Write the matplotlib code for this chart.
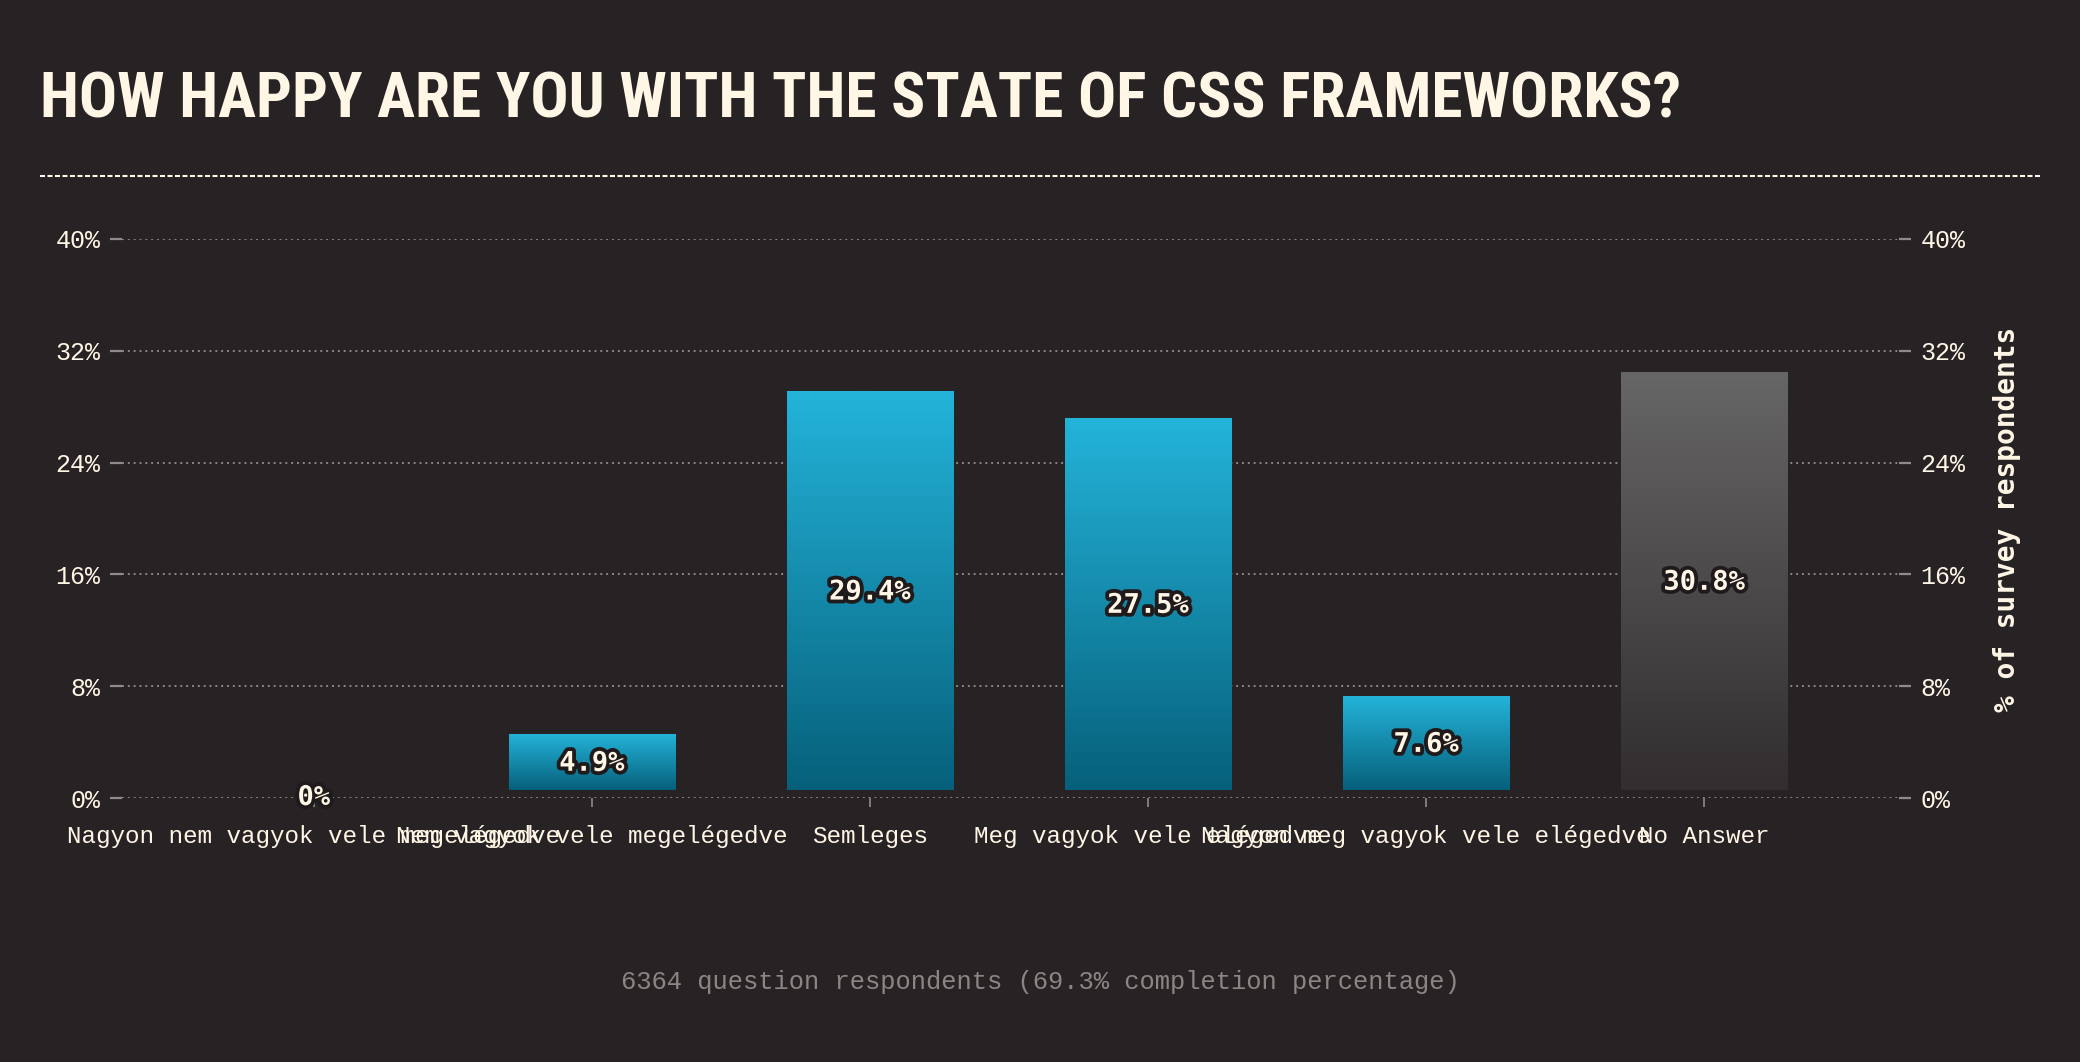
import matplotlib
matplotlib.use("Agg")
import matplotlib.pyplot as plt
import numpy as np
from matplotlib.colors import LinearSegmentedColormap
from matplotlib.lines import Line2D
import matplotlib.patheffects as pe

# ---- data ----
categories = [
    "Nagyon nem vagyok vele megelégedve",
    "Nem vagyok vele megelégedve",
    "Semleges",
    "Meg vagyok vele elégedve",
    "Nagyon meg vagyok vele elégedve",
    "No Answer",
]
values = [0.0, 4.9, 29.4, 27.5, 7.6, 30.8]
y_ticks = [0, 8, 16, 24, 32, 40]
title = "HOW HAPPY ARE YOU WITH THE STATE OF CSS FRAMEWORKS?"
y_label = "% of survey respondents"
footer = "6364 question respondents (69.3% completion percentage)"

# ---- style ----
BG = "#272325"
CREAM = "#fff6e6"
GRID = "#8a8684"
TICK = "#8f8b89"
FOOT = "#8c8682"
TEAL_TOP, TEAL_BOT = "#24b4da", "#06607b"
GRAY_TOP, GRAY_BOT = "#676666", "#322e30"
MONO = ["Liberation Mono", "DejaVu Sans Mono"]
MONO_B = ["DejaVu Sans Mono"]
TITLE_FONT = ["Roboto Condensed", "Open Sans Condensed", "DejaVu Sans"]

W, H = 2080, 1062
fig = plt.figure(figsize=(W / 100, H / 100), dpi=100, facecolor=BG)
ax = fig.add_axes([122 / W, 1 - 798 / H, (1899 - 122) / W, (798 - 239) / H])
ax.set_facecolor(BG)
for s in ax.spines.values():
    s.set_visible(False)

x = np.arange(len(categories))
bar_w = 0.6
inset_bottom, inset_top = 0.55, 0.3
heights = [max(v - inset_bottom - inset_top, 0) for v in values]
bars = ax.bar(x, heights, width=bar_w, bottom=inset_bottom, color="none",
              edgecolor="none", zorder=2)

teal = LinearSegmentedColormap.from_list("teal", [TEAL_BOT, TEAL_TOP])
gray = LinearSegmentedColormap.from_list("gray", [GRAY_BOT, GRAY_TOP])
grad = np.linspace(0, 1, 256).reshape(-1, 1)
for i, b in enumerate(bars):
    if b.get_height() <= 0:
        continue
    cmap = gray if categories[i] == "No Answer" else teal
    im = ax.imshow(grad, extent=[b.get_x(), b.get_x() + b.get_width(),
                                 b.get_y(), b.get_y() + b.get_height()],
                   origin="lower", aspect="auto", cmap=cmap, zorder=2,
                   interpolation="bilinear")
    im.set_clip_path(b)

for i, v in enumerate(values):
    ax.text(x[i], v / 2, f"{v:g}%", ha="center", va="center",
            fontsize=19.5, fontweight="bold", family=MONO_B, color=CREAM,
            zorder=5,
            path_effects=[pe.withStroke(linewidth=5.5, foreground="#1f1b1c")])

ax.set_xlim(-0.69, 5.70)
ax.set_ylim(0, 40)
ax.set_yticks(y_ticks)
ax.set_yticklabels([f"{t}%" for t in y_ticks])
ax.set_xticks(x)
ax.set_xticklabels(categories)

ax.yaxis.grid(True, linestyle=(0, (1, 2)), color=GRID, linewidth=1.4)
ax.set_axisbelow(True)

ax.tick_params(axis="y", which="both", left=True, right=True,
               labelleft=True, labelright=True, length=8.6, width=1.6,
               color=TICK, labelcolor=CREAM, labelsize=18, pad=7)
ax.tick_params(axis="x", length=6.5, width=1.2, color=TICK,
               labelcolor=CREAM, labelsize=17.5, pad=13)
for lab in ax.get_xticklabels() + ax.get_yticklabels():
    lab.set_family(MONO)
for t in ax.yaxis.get_major_ticks():
    t.label2.set_family(MONO)

fig.text(2007 / W, 1 - 519 / H, y_label, rotation=90, ha="center",
         va="center", fontsize=20, fontweight="bold", family=MONO_B,
         color=CREAM)

# title: fit to the reference width (left 40 px -> right 1682 px)
t = fig.text(40 / W, 1 - 117 / H, title, ha="left", va="baseline",
             fontsize=50, fontweight="bold", fontstretch="condensed",
             family=TITLE_FONT, color=CREAM)
fig.canvas.draw()
wpx = t.get_window_extent().width
t.set_fontsize(50 * (1682 - 40) / wpx)

fig.add_artist(Line2D([40 / W, 2040 / W], [1 - 176 / H] * 2,
                      transform=fig.transFigure, linestyle=(0, (2.4, 1.2)),
                      linewidth=1.5, color=CREAM))

fig.text(0.5, 1 - 982 / H, footer, ha="center", va="center", fontsize=18.4,
         family=MONO, color=FOOT)

fig.savefig("out.png", dpi=100, facecolor=BG)
